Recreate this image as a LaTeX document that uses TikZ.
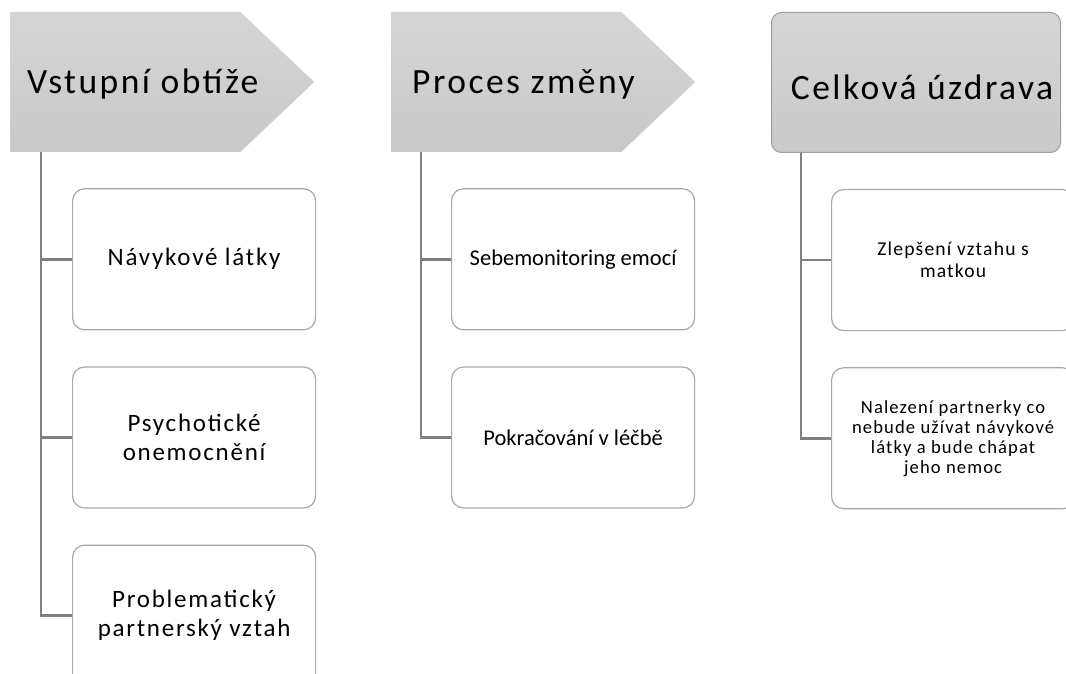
\documentclass[tikz,border=0pt]{standalone}
\usepackage{fontspec}
\setmainfont{Carlito}
\usetikzlibrary{positioning, shapes.symbols}
\definecolor{hdrtop}{HTML}{D5D5D5}
\definecolor{hdrbot}{HTML}{C9C9C9}
\definecolor{hdrline}{HTML}{9E9E9E}
\definecolor{boxgray}{HTML}{A8A8A8}
\definecolor{linegray}{HTML}{808080}
\newcommand{\hdfont}{\fontsize{35.5}{40}\selectfont\addfontfeature{LetterSpace=7}}
\newcommand{\txtbig}{\fontsize{25}{29}\selectfont\addfontfeature{LetterSpace=7}}
\newcommand{\txtmid}{\fontsize{22.5}{26}\selectfont}
\newcommand{\txtsmall}{\fontsize{19.6}{22}\selectfont\addfontfeature{LetterSpace=6}}
\newcommand{\txttiny}{\fontsize{18.6}{20}\selectfont\addfontfeature{LetterSpace=6}}

\begin{document}
\begin{tikzpicture}[x=1pt, y=-1pt, node distance=36pt]
                \tikzset{head/.style={top color=hdrtop, bottom color=hdrbot, minimum height=140pt, inner sep=0pt},
                         pointed/.style={head, shape=signal, signal to=east, signal pointer angle=87, minimum width=304pt},
                         hdtext/.style={inner sep=0pt, font=\hdfont},
                         item/.style={draw=boxgray, line width=1.2pt, fill=white, rounded corners=12pt,
                                      minimum width=243pt, minimum height=141pt, align=center, inner sep=0pt},
                         conn/.style={draw=linegray, line width=2.6pt}}
                \clip (0,0) rectangle (1066,674);
                % headers
                \node[pointed, anchor=west] (vo) at (10,82) {};
                \node[hdtext, anchor=base west] (vot) at ([xshift=17pt, yshift=-12pt]vo.west) {Vstupní obtíže};
                \node[pointed, anchor=west] (pz) at (391,82) {};
                \node[hdtext, anchor=base west] (pzt) at ([xshift=21pt, yshift=-12pt]pz.west) {Proces změny};
                \node[head, draw=hdrline, line width=1pt, rounded corners=10pt, minimum width=289pt,
                      anchor=north west] (cu) at (771,12) {};
                \node[hdtext, anchor=base] (cut) at ([xshift=6pt, yshift=-17pt]cu.center) {Celková úzdrava};
                % boxes
                \node[item, font=\txtbig, below right=36pt and 62pt of vo.south west] (vo1) {Návykové látky};
                \node[item, font=\txtbig, below=of vo1] (vo2) {Psychotické\\onemocnění};
                \node[item, font=\txtbig, below=of vo2] (vo3) {Problematický\\partnerský vztah};
                \node[item, font=\txtmid, below right=36pt and 60pt of pz.south west] (pz1) {Sebemonitoring emocí};
                \node[item, font=\txtmid, below=of pz1] (pz2) {Pokračování v léčbě};
                \node[item, font=\txtsmall, below right=36pt and 60pt of cu.south west] (cu1) {Zlepšení vztahu s\\matkou};
                \node[item, font=\txttiny, below=of cu1] (cu2) {Nalezení partnerky co\\nebude užívat návykové\\látky a bude chápat\\jeho nemoc};
                % connectors
                \draw[conn] ([xshift=31pt]vo.south west) |- (vo3.west);
                \draw[conn] ([xshift=31pt]vo.south west) |- (vo1.west);
                \draw[conn] ([xshift=31pt]vo.south west) |- (vo2.west);
                \draw[conn] ([xshift=30pt]pz.south west) |- (pz2.west);
                \draw[conn] ([xshift=30pt]pz.south west) |- (pz1.west);
                \draw[conn] ([xshift=30pt]cu.south west) |- (cu2.west);
                \draw[conn] ([xshift=30pt]cu.south west) |- (cu1.west);
            \end{tikzpicture}
\end{document}
